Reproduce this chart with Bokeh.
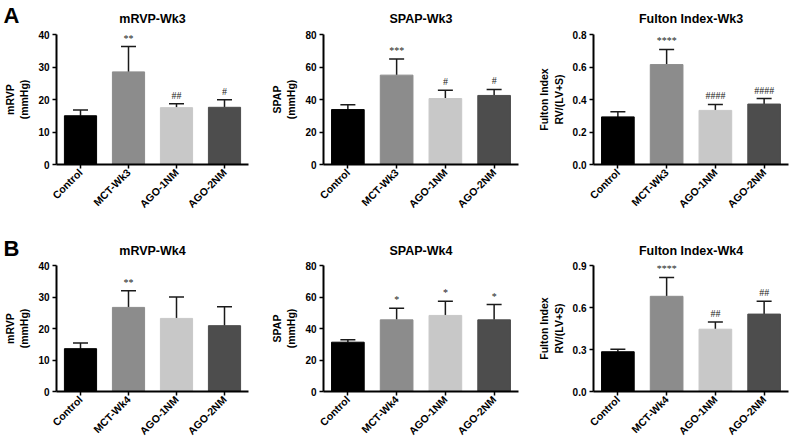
import math
from bokeh.plotting import figure
from bokeh.layouts import column, row
from bokeh.models import (ColumnDataSource, Whisker, TeeHead, FixedTicker,
                          LabelSet, NumeralTickFormatter, Range1d, FactorRange)
from bokeh.embed import file_html
from bokeh.resources import INLINE

FONT = "Liberation Sans"

# ---------------- data ----------------
groups_wk3 = ["Control", "MCT-Wk3", "AGO-1NM", "AGO-2NM"]
groups_wk4 = ["Control", "MCT-Wk4", "AGO-1NM", "AGO-2NM"]
bar_colors = ["#000000", "#8c8c8c", "#c8c8c8", "#4d4d4d"]

mrvp_wk3_mean = [15.0, 28.5, 17.5, 17.6]
mrvp_wk3_err = [1.8, 7.8, 1.2, 2.3]
mrvp_wk3_sig = ["", "**", "##", "#"]

spap_wk3_mean = [33.8, 55.0, 40.6, 42.5]
spap_wk3_err = [2.9, 9.9, 5.1, 3.7]
spap_wk3_sig = ["", "***", "#", "#"]

fulton_wk3_mean = [0.293, 0.615, 0.333, 0.372]
fulton_wk3_err = [0.032, 0.093, 0.037, 0.034]
fulton_wk3_sig = ["", "****", "####", "####"]

mrvp_wk4_mean = [13.6, 26.7, 23.2, 20.9]
mrvp_wk4_err = [1.8, 5.3, 6.8, 6.0]
mrvp_wk4_sig = ["", "**", "", ""]

spap_wk4_mean = [31.3, 45.5, 48.3, 45.5]
spap_wk4_err = [1.6, 7.3, 9.0, 9.7]
spap_wk4_sig = ["", "*", "*", "*"]

fulton_wk4_mean = [0.284, 0.680, 0.445, 0.553]
fulton_wk4_err = [0.018, 0.135, 0.052, 0.092]
fulton_wk4_sig = ["", "****", "##", "##"]

ticks_mrvp = [0, 10, 20, 30, 40]
ticks_spap = [0, 20, 40, 60, 80]
ticks_fulton_wk3 = [0.0, 0.2, 0.4, 0.6, 0.8]
ticks_fulton_wk4 = [0.0, 0.3, 0.6, 0.9]

panel_letters = ["A", "B"]


def panel(title, cats, means, errs, sig, ticks, ylabel, fmt,
          width, height, left, right, top, bottom, title_standoff):
    p = figure(width=width, height=height, output_backend="svg", toolbar_location=None,
               x_range=FactorRange(*cats, range_padding=0),
               y_range=Range1d(0, ticks[-1]),
               min_border_left=left, min_border_right=right,
               min_border_top=top, min_border_bottom=bottom)
    src = ColumnDataSource(dict(x=cats, top=means,
                                upper=[m + e for m, e in zip(means, errs)],
                                color=bar_colors, sig=sig))
    p.vbar(x="x", top="top", width=0.67, fill_color="color", line_color="color", source=src)
    w = Whisker(source=src, base="x", lower="top", upper="upper",
                line_color="#1a1a1a", line_width=1.5,
                upper_head=TeeHead(size=15, line_color="#1a1a1a", line_width=1.5),
                lower_head=None)
    p.add_layout(w)
    ls = LabelSet(source=src, x="x", y="upper", text="sig", y_offset=3,
                  text_align="center", text_baseline="bottom",
                  text_font=FONT, text_font_size="10px", text_color="#222222")
    p.add_layout(ls)

    p.title.text = title
    p.title.align = "center"
    p.title.text_font = FONT
    p.title.text_font_size = "12.5px"
    p.title.text_font_style = "bold"
    p.title.text_color = "#000000"
    p.title.standoff = title_standoff

    p.grid.visible = False
    p.outline_line_color = None
    p.background_fill_color = "white"
    p.border_fill_color = "white"

    for ax in (p.xaxis[0], p.yaxis[0]):
        ax.axis_line_width = 2
        ax.axis_line_color = "black"
        ax.major_tick_line_width = 1.5
        ax.major_tick_line_color = "black"
        ax.major_tick_in = 0
        ax.major_tick_out = 4
        ax.minor_tick_line_color = None
        ax.major_label_text_font = FONT
        ax.major_label_text_font_style = "bold"
        ax.major_label_text_color = "black"

    xa = p.xaxis[0]
    xa.major_label_orientation = math.pi / 4
    xa.major_label_text_font_size = "10.5px"
    xa.major_label_standoff = 2

    ya = p.yaxis[0]
    ya.ticker = FixedTicker(ticks=ticks)
    if fmt:
        ya.formatter = NumeralTickFormatter(format=fmt)
    ya.major_label_text_font_size = "10px"
    ya.major_label_standoff = 3
    ya.axis_label = ylabel
    ya.axis_label_text_font = FONT
    ya.axis_label_text_font_size = "10.5px"
    ya.axis_label_text_font_style = "bold"
    ya.axis_label_text_color = "black"
    ya.axis_label_standoff = 5
    return p


def letter_fig(letter, margin):
    f = figure(width=40, height=30, output_backend="svg", toolbar_location=None,
               x_axis_type=None, y_axis_type=None,
               min_border_left=3, min_border_right=0, min_border_top=0, min_border_bottom=0,
               margin=margin)
    f.title.text = letter
    f.title.align = "left"
    f.title.standoff = 0
    f.title.text_font = FONT
    f.title.text_font_size = "22px"
    f.title.text_font_style = "bold"
    f.title.text_color = "black"
    f.grid.visible = False
    f.outline_line_color = None
    f.background_fill_color = None
    f.border_fill_color = None
    return f


H1, T1, B1 = 225, 34, 61
H2, T2, B2 = 219, 40, 49

p1 = panel("mRVP-Wk3", groups_wk3, mrvp_wk3_mean, mrvp_wk3_err, mrvp_wk3_sig, ticks_mrvp,
           "mRVP\n(mmHg)", None, 256, H1, 51, 8, T1, B1, 17)
p2 = panel("SPAP-Wk3", groups_wk3, spap_wk3_mean, spap_wk3_err, spap_wk3_sig, ticks_spap,
           "SPAP\n(mmHg)", None, 268, H1, 67, 6, T1, B1, 17)
p3 = panel("Fulton Index-Wk3", groups_wk3, fulton_wk3_mean, fulton_wk3_err, fulton_wk3_sig,
           ticks_fulton_wk3, "Fulton Index\nRV/(LV+S)", "0.0", 266, H1, 69, 2, T1, B1, 17)
p4 = panel("mRVP-Wk4", groups_wk4, mrvp_wk4_mean, mrvp_wk4_err, mrvp_wk4_sig, ticks_mrvp,
           "mRVP\n(mmHg)", None, 256, H2, 51, 8, T2, B2, 15)
p5 = panel("SPAP-Wk4", groups_wk4, spap_wk4_mean, spap_wk4_err, spap_wk4_sig, ticks_spap,
           "SPAP\n(mmHg)", None, 268, H2, 67, 6, T2, B2, 15)
p6 = panel("Fulton Index-Wk4", groups_wk4, fulton_wk4_mean, fulton_wk4_err, fulton_wk4_sig,
           ticks_fulton_wk4, "Fulton Index\nRV/(LV+S)", "0.0", 266, H2, 69, 2, T2, B2, 15)

# overlay letters: pulled up over each row with negative margins
la = letter_fig(panel_letters[0], (-H1, 0, H1 - 30, 0))
lb = letter_fig(panel_letters[1], (-H2 + 8, 0, H2 - 38, 0))

layout = column(row(p1, p2, p3), la, row(p4, p5, p6), lb)
open("out.html", "w").write(file_html(layout, INLINE))
